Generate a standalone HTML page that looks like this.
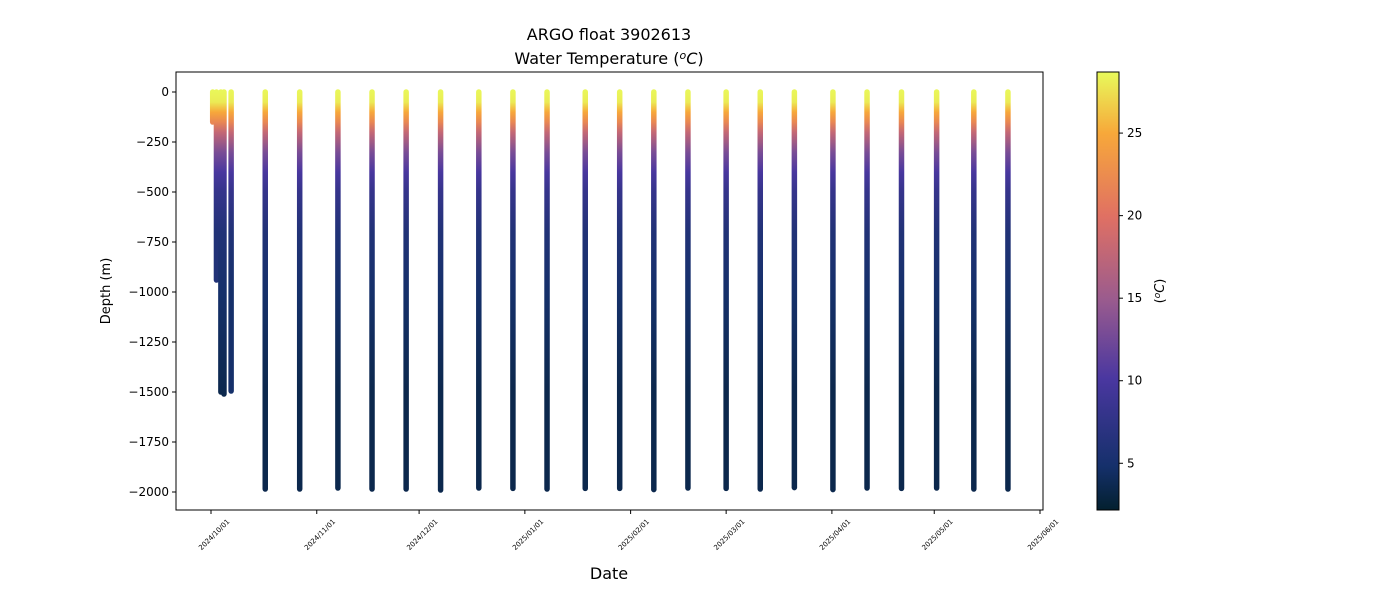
<!DOCTYPE html>
<html><head><meta charset="utf-8"><style>
body{margin:0;background:#fff;font-family:"DejaVu Sans","Liberation Sans",sans-serif;}
svg text{font-family:"DejaVu Sans","Liberation Sans",sans-serif;}
</style></head><body>
<svg id="chart" width="1400" height="600" xmlns="http://www.w3.org/2000/svg">
<defs>
<linearGradient id="cbgrad" x1="0" y1="1" x2="0" y2="0">
<stop offset="0" stop-color="#03202f"/><stop offset="0.1" stop-color="#15306b"/>
<stop offset="0.3" stop-color="#4a37a0"/><stop offset="0.48" stop-color="#9a5b8e"/>
<stop offset="0.67" stop-color="#e07063"/><stop offset="0.86" stop-color="#f7a83a"/>
<stop offset="1" stop-color="#e8fa5b"/></linearGradient>
</defs>
<g id="plot"></g>
<text x="609" y="40" text-anchor="middle" font-size="16">ARGO float 3902613</text>
<text x="609" y="64" text-anchor="middle" font-size="16">Water Temperature (<tspan font-style="italic" dy="-5" font-size="11">o</tspan><tspan dy="5" font-style="italic">C</tspan>)</text>
<text x="609" y="579" text-anchor="middle" font-size="16">Date</text>
<text transform="translate(110,291) rotate(-90)" text-anchor="middle" font-size="13">Depth (m)</text>
<rect x="1097" y="72" width="22" height="438" fill="url(#cbgrad)" stroke="#000" stroke-width="1"/>
<text transform="translate(1164,291) rotate(-90)" text-anchor="middle" font-size="13">(<tspan font-style="italic" dy="-4" font-size="9">o</tspan><tspan dy="4" font-style="italic">C</tspan>)</text>
</svg>
<script>
const yTicks=[0,-250,-500,-750,-1000,-1250,-1500,-1750,-2000];
const yTickLabels=['0','−250','−500','−750','−1000','−1250','−1500','−1750','−2000'];
const xTickDays=[0,31,61,92,123,151,182,212,243];
const xTickLabels=['2024/10/01','2024/11/01','2024/12/01','2025/01/01','2025/02/01','2025/03/01','2025/04/01','2025/05/01','2025/06/01'];
const cbTicks=[5,10,15,20,25];
const profileDays=[0.5,1.6,2.9,3.8,5.9,15.9,26,37.2,47.2,57.2,67.3,78.5,88.5,98.5,109.7,119.8,129.8,139.8,151,161,171,182.3,192.3,202.4,212.7,223.6,233.6];
const profileMaxDepth=[150,940,1500,1510,1495,1985,1985,1980,1985,1985,1990,1980,1982,1985,1982,1982,1988,1980,1982,1985,1978,1988,1980,1982,1980,1985,1985];
const tempDepths=[0,50,100,150,200,300,400,500,700,1000,1500,2000];
const tempValues=[28.5,28,25,22,18,13,10,8,6,4.8,3.5,2.5];
const NS='http://www.w3.org/2000/svg';
const L=176,R=1043,T=72,B=510;
const x=d=>211+d*(829/243);
const y=v=>92-v*0.2;
const cmin=2.17,cmax=28.7;
const stops=[[0,[3,32,47]],[0.1,[21,48,107]],[0.3,[74,55,160]],[0.48,[154,91,142]],[0.67,[224,112,99]],[0.86,[247,168,58]],[1,[232,250,91]]];
function color(t){let f=Math.max(0,Math.min(1,(t-cmin)/(cmax-cmin)));for(let i=1;i<stops.length;i++){if(f<=stops[i][0]){const a=stops[i-1],b=stops[i],k=(f-a[0])/(b[0]-a[0]);return 'rgb('+a[1].map((c,j)=>Math.round(c+(b[1][j]-c)*k)).join(',')+')';}}return 'rgb(232,250,91)';}
const svg=document.getElementById('chart'),g=document.getElementById('plot'),defs=svg.querySelector('defs');
function el(tag,attrs,parent){const e=document.createElementNS(NS,tag);for(const k in attrs)e.setAttribute(k,attrs[k]);(parent||g).appendChild(e);return e;}
profileDays.forEach((d,i)=>{
 const md=profileMaxDepth[i];
 const gr=el('linearGradient',{id:'pg'+i,gradientUnits:'userSpaceOnUse',x1:0,y1:y(0),x2:0,y2:y(-md)},defs);
 tempDepths.forEach((z,j)=>{if(z<=md){el('stop',{offset:z/md,'stop-color':color(tempValues[j])},gr);}});
 const ln=el('line',{x1:x(d),x2:x(d),y1:y(0),y2:y(-md),stroke:'url(#pg'+i+')','stroke-width':5.5,'stroke-linecap':'round'});
 
 
});
const fr=el('rect',{x:L,y:T,width:R-L,height:B-T,fill:'none',stroke:'#000','stroke-width':1});


yTicks.forEach((v,i)=>{
 el('line',{x1:L-4,x2:L,y1:y(v),y2:y(v),stroke:'#000'});
 const t=el('text',{x:L-7,y:y(v)+4,'text-anchor':'end','font-size':12});t.textContent=yTickLabels[i];
 
 
});
xTickDays.forEach((d,i)=>{
 el('line',{x1:x(d),x2:x(d),y1:B,y2:B+4,stroke:'#000'});
 const t=el('text',{transform:'translate('+(x(d)+19)+','+(B+12)+') rotate(-45)','text-anchor':'end','font-size':7});t.textContent=xTickLabels[i];
 
 
});
cbTicks.forEach(v=>{
 const yy=510-(v-cmin)/(cmax-cmin)*438;
 el('line',{x1:1119,x2:1123,y1:yy,y2:yy,stroke:'#000'});
 const t=el('text',{x:1127,y:yy+4,'font-size':12});t.textContent=v;
 
 
});
</script>
</body></html>
